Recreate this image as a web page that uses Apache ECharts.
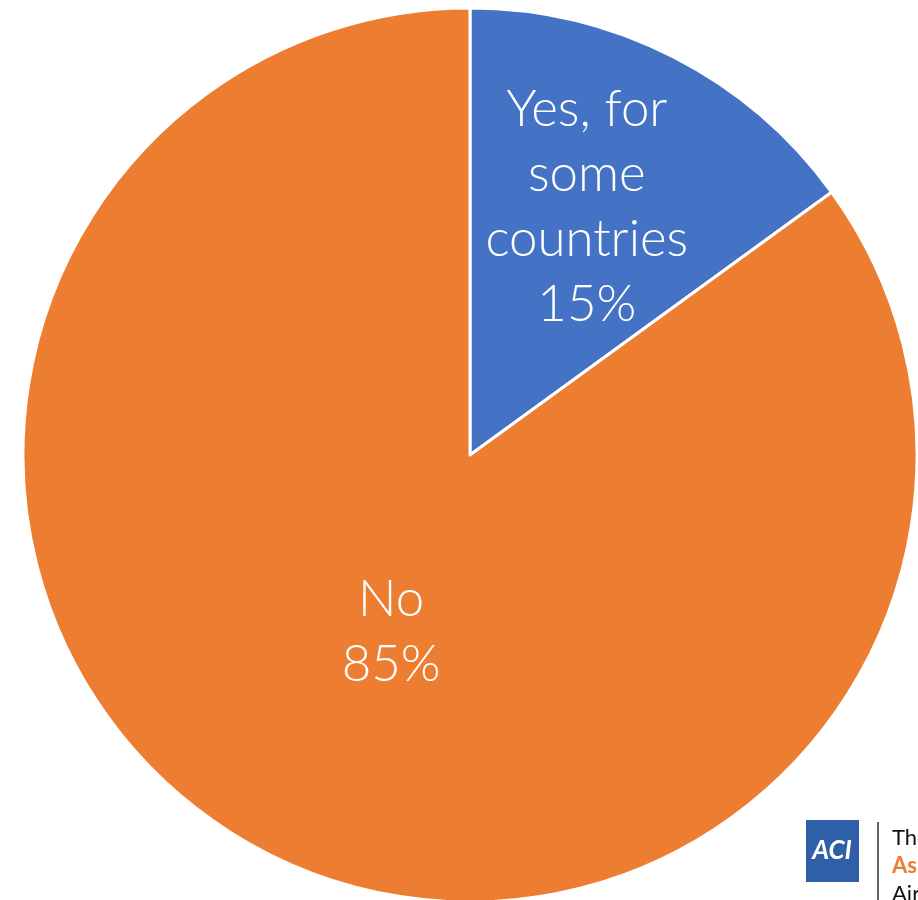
<!DOCTYPE html>
<html>
<head>
<meta charset="utf-8">
<script src="https://cdn.jsdelivr.net/npm/echarts@6/dist/echarts.min.js"></script>
<style>html,body{margin:0;padding:0;background:#fff;}#c{width:918px;height:900px;}</style>
</head>
<body>
<div id="c"></div>
<script>
const categories = ["Yes, for\nsome\ncountries", "No"];
const values = [15, 85];
const colors = ["#4472C4", "#ED7D31"];
const labelOffsets = [[14, -46], [24, -25]];

const chart = echarts.init(document.getElementById('c'));
chart.setOption({
  animation: false,
  series: [{
    type: 'pie',
    center: [470, 455],
    radius: [0, 447],
    startAngle: 90,
    clockwise: true,
    data: categories.map((c, i) => ({
      name: c, value: values[i],
      itemStyle: { color: colors[i] },
      label: { offset: labelOffsets[i] }
    })),
    itemStyle: { borderColor: '#fff', borderWidth: 3 },
    label: {
      position: 'inner',
      formatter: p => p.name + '\n' + p.value + '%',
      color: '#fff',
      fontFamily: 'Lato',
      fontWeight: 300,
      fontSize: 51,
      lineHeight: 65
    },
    labelLine: { show: false }
  }],
  graphic: [
    { type: 'rect', shape: { x: 806, y: 820, width: 53, height: 62 }, style: { fill: '#2E5FA8' } },
    { type: 'text', style: { x: 832, y: 851, text: 'ACI', fill: '#fff', font: 'italic bold 26px Lato', textAlign: 'center', textVerticalAlign: 'middle' } },
    { type: 'line', shape: { x1: 878, y1: 822, x2: 878, y2: 900 }, style: { stroke: '#333', lineWidth: 1.5 } },
    { type: 'text', style: { x: 892, y: 838, text: 'The', fill: '#111', font: '22px Lato', textVerticalAlign: 'middle' } },
    { type: 'text', style: { x: 892, y: 866, text: 'Asia', fill: '#ED7D31', font: 'bold 22px Lato', textVerticalAlign: 'middle' } },
    { type: 'text', style: { x: 892, y: 894, text: 'Airports', fill: '#111', font: '22px Lato', textVerticalAlign: 'middle' } }
  ]
});
</script>
</body>
</html>
